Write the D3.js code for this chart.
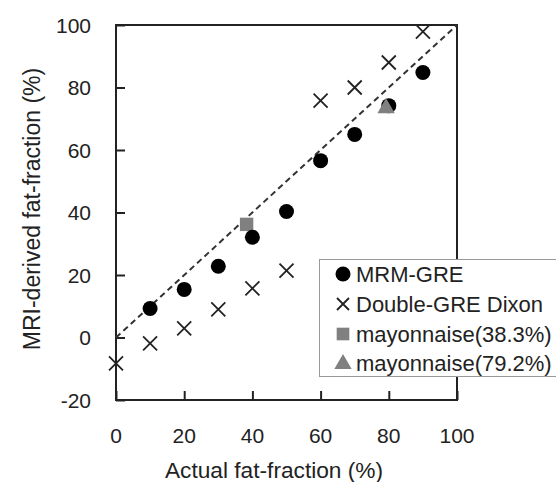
<!DOCTYPE html>
<html>
<head>
<meta charset="utf-8">
<script src="https://cdn.jsdelivr.net/npm/d3@7"></script>
<style>
  body { margin: 0; background: #fff; }
  text { font-family: "Liberation Sans", Arial, sans-serif; fill: #222; }
</style>
</head>
<body>
<svg id="chart" width="556" height="482"></svg>
<script>
// actual fat fraction (%) for the phantom series
const actual = [0, 10, 20, 30, 40, 50, 60, 70, 80, 90];
// MRM-GRE has no value at 0
const mrmX = [10, 20, 30, 40, 50, 60, 70, 80, 90];
const mrmY = [9.3, 15.4, 22.8, 32.1, 40.3, 56.6, 65.0, 74.2, 84.8];
const dixonY = [-8.3, -1.9, 2.9, 9.0, 15.7, 21.4, 75.8, 80.0, 88.0, 97.9];
const mayoSquare = [[38.3, 36.2]];
const mayoTriangle = [[79.2, 73.4]];
const xTicks = [0, 20, 40, 60, 80, 100];
const yTicks = [-20, 0, 20, 40, 60, 80, 100];
const legendLabels = ["MRM-GRE", "Double-GRE Dixon", "mayonnaise(38.3%)", "mayonnaise(79.2%)"];

const svg = d3.select("#chart");
const pL = 116, pR = 457, pT = 25, pB = 400;

const x = d3.scaleLinear().domain([0, 100]).range([pL, pR]);
const y = d3.scaleLinear().domain([-20, 100]).range([pB, pT]);

// frame
svg.append("rect")
  .attr("x", pL).attr("y", pT)
  .attr("width", pR - pL).attr("height", pB - pT)
  .attr("fill", "none").attr("stroke", "#222").attr("stroke-width", 2);

// inward ticks
const yAxis = svg.append("g")
  .attr("transform", `translate(${pL},0)`)
  .call(d3.axisRight(y).tickValues(yTicks).tickSize(9).tickFormat(""));
const xAxis = svg.append("g")
  .attr("transform", `translate(0,${pB})`)
  .call(d3.axisTop(x).tickValues(xTicks).tickSize(9).tickFormat(""));
[yAxis, xAxis].forEach(g => {
  g.select(".domain").remove();
  g.selectAll("line").attr("stroke", "#222").attr("stroke-width", 2);
});

// tick labels
svg.selectAll(".ylab").data(yTicks).enter().append("text")
  .attr("x", 91).attr("y", d => y(d) + 7.5)
  .attr("text-anchor", "end").style("font-size", "21px")
  .text(d => d);
svg.selectAll(".xlab").data(xTicks).enter().append("text")
  .attr("x", d => x(d)).attr("y", 443)
  .attr("text-anchor", "middle").style("font-size", "21px")
  .text(d => d);

// axis titles
svg.append("text")
  .attr("x", 274).attr("y", 478)
  .attr("text-anchor", "middle").style("font-size", "22.7px")
  .text("Actual fat-fraction (%)");
svg.append("text")
  .attr("transform", "translate(40,209) rotate(-90)")
  .attr("text-anchor", "middle").style("font-size", "23px")
  .text("MRI-derived fat-fraction (%)");

// identity line
svg.append("line")
  .attr("x1", x(0)).attr("y1", y(0))
  .attr("x2", x(100)).attr("y2", y(100))
  .attr("stroke", "#333").attr("stroke-width", 2)
  .attr("stroke-dasharray", "6,4");

const grey = "#808080";

// Double-GRE Dixon as x marks
function xMark(g, cx, cy, s) {
  g.append("path")
    .attr("d", `M${cx - s},${cy - s}L${cx + s},${cy + s}M${cx - s},${cy + s}L${cx + s},${cy - s}`)
    .attr("stroke", "#222").attr("stroke-width", 1.8).attr("fill", "none");
}
actual.forEach((a, i) => xMark(svg, x(a), y(dixonY[i]), 7));

svg.selectAll(".sq").data(mayoSquare).enter().append("path")
  .attr("transform", d => `translate(${x(d[0])},${y(d[1])})`)
  .attr("d", d3.symbol().type(d3.symbolSquare).size(180))
  .attr("fill", grey);

svg.selectAll(".mrm").data(mrmX).enter().append("circle")
  .attr("cx", d => x(d)).attr("cy", (d, i) => y(mrmY[i]))
  .attr("r", 7.5).attr("fill", "#000");

svg.selectAll(".tri").data(mayoTriangle).enter().append("path")
  .attr("transform", d => `translate(${x(d[0])},${y(d[1])})`)
  .attr("d", d3.symbol().type(d3.symbolTriangle).size(130))
  .attr("fill", grey);

// legend
const lg = svg.append("g");
lg.append("rect")
  .attr("x", 319.5).attr("y", 259.5).attr("width", 260).attr("height", 117)
  .attr("fill", "#fff").attr("stroke", "#999").attr("stroke-width", 1);
const symY = [274, 304, 334, 363];
const baseY = [282, 312, 342, 371];
const sx = 343;
lg.append("circle").attr("cx", sx).attr("cy", symY[0]).attr("r", 7.5).attr("fill", "#000");
xMark(lg, sx, symY[1], 6);
lg.append("path").attr("transform", `translate(${sx},${symY[2]})`)
  .attr("d", d3.symbol().type(d3.symbolSquare).size(160)).attr("fill", grey);
lg.append("path").attr("transform", `translate(${sx},${symY[3] + 1})`)
  .attr("d", d3.symbol().type(d3.symbolTriangle).size(130)).attr("fill", grey);
lg.selectAll(".ltxt").data(legendLabels).enter().append("text")
  .attr("x", 356).attr("y", (d, i) => baseY[i])
  .style("font-size", "22px")
  .text(d => d);
</script>
</body>
</html>
